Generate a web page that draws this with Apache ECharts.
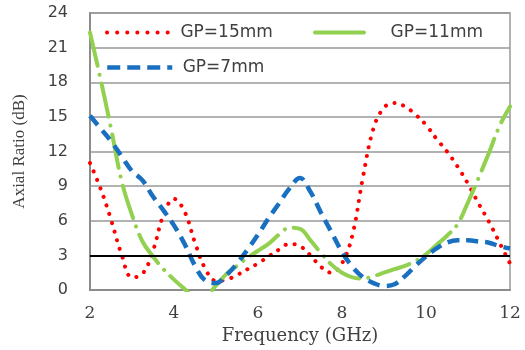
<!DOCTYPE html>
<html>
<head>
<meta charset="utf-8">
<script src="https://cdn.jsdelivr.net/npm/echarts@6/dist/echarts.min.js"></script>
<style>html,body{margin:0;padding:0;background:#fff;}#c{width:525px;height:350px;}</style>
</head>
<body>
<div id="c"></div>
<script>
// Frequency samples (GHz)
const freq = [2,2.25,2.5,2.75,3,3.25,3.5,3.75,4,4.25,4.5,4.75,5,5.25,5.5,5.75,6,6.25,6.5,6.75,7,7.25,7.5,7.75,8,8.25,8.5,8.75,9,9.25,9.5,9.75,10,10.25,10.5,10.75,11,11.25,11.5,11.75,12];
// Axial ratio (dB)
const gp15 = [11.0,8.8,6.1,3.1,1.1,1.4,3.4,6.5,7.9,6.8,4.1,1.8,0.8,0.9,1.3,1.8,2.3,2.9,3.5,4.0,3.8,3.0,2.0,1.5,2.3,4.8,9.8,14.0,15.8,16.2,15.9,15.2,14.3,13.1,12.0,10.7,9.2,7.5,5.9,4.1,2.3];
const gp11 = [22.3,18.3,14.0,9.5,6.5,4.2,2.9,1.8,0.9,0.1,-0.6,-0.5,0.4,1.4,2.1,2.8,3.4,4.0,4.8,5.4,5.3,4.3,3.2,2.2,1.5,1.1,1.0,1.2,1.5,1.8,2.1,2.5,3.1,3.9,4.7,5.7,7.6,9.7,11.9,14.2,15.9];
const gp7  = [15.1,14.0,12.9,11.6,10.3,9.5,8.1,6.9,5.6,4.0,2.1,0.8,0.6,1.3,2.3,3.5,4.8,6.2,7.5,8.8,9.7,8.5,6.7,5.0,3.3,2.0,1.1,0.6,0.35,0.5,1.2,2.1,2.9,3.6,4.1,4.3,4.3,4.2,4.1,3.8,3.6];
const names = ['GP=15mm','GP=11mm','GP=7mm'];
const refLevel = 3;

const pair = arr => freq.map((f,i)=>[f,arr[i]]);
const chart = echarts.init(document.getElementById('c'), null, {renderer:'canvas'});
const legendText = {fontFamily:'DejaVu Sans', fontSize:17, color:'#404040'};
const hideSym = {opacity:0};
chart.setOption({
  animation:false,
  grid:{left:90, right:15, top:13, bottom:60, show:true, borderColor:'#999', borderWidth:1.5},
  legend:[
    {data:[names[0]], left:105, top:24, padding:0, itemWidth:63, itemHeight:14, itemStyle:hideSym,
     lineStyle:{width:4, type:[0.1,10], cap:'round'}, textStyle:legendText, formatter:n=>' '+n},
    {data:[names[2]], left:105, top:59, padding:0, itemWidth:65, itemHeight:14, itemStyle:hideSym,
     lineStyle:{width:4.5, type:[13,7]}, textStyle:legendText, formatter:n=>' '+n},
    {data:[names[1]], left:313, top:24, padding:0, itemWidth:49, itemHeight:14, itemStyle:hideSym,
     lineStyle:{width:4, type:'solid', cap:'round'}, textStyle:legendText, formatter:n=>'    '+n}
  ],
  xAxis:{type:'value', min:2, max:12, interval:2,
    name:'Frequency (GHz)', nameLocation:'middle', nameGap:37,
    nameTextStyle:{fontFamily:'DejaVu Serif', fontSize:18, color:'#404040'},
    axisLine:{show:true, lineStyle:{color:'#8c8c8c', width:2}},
    axisTick:{show:false}, splitLine:{show:false},
    axisLabel:{margin:15, fontFamily:'DejaVu Serif', fontSize:17, color:'#404040'}},
  yAxis:{type:'value', min:0, max:24, interval:3,
    name:'Axial Ratio (dB)', nameLocation:'middle', nameGap:62,
    nameTextStyle:{fontFamily:'Liberation Serif', fontSize:17, color:'#404040'},
    axisLine:{show:true, lineStyle:{color:'#8c8c8c', width:2}},
    axisTick:{show:false},
    splitLine:{show:true, lineStyle:{color:'#999', width:1.5}},
    axisLabel:{margin:22, fontFamily:'DejaVu Sans', fontSize:16, color:'#404040'}},
  series:[
    {name:names[0], type:'line', data:pair(gp15), smooth:0.4, showSymbol:false, symbol:'none',
     lineStyle:{color:'#ff0000', width:4, type:[0.1,9], cap:'round'}, itemStyle:{color:'#ff0000'},
     markLine:{silent:true, symbol:['none','none'], label:{show:false}, data:[{yAxis:refLevel}],
       lineStyle:{color:'#000', width:2, type:'solid'}}},
    {name:names[1], type:'line', data:pair(gp11), smooth:0.4, showSymbol:false, symbol:'none',
     lineStyle:{color:'#92d050', width:4, type:[34,9,0.1,9], cap:'round'}, itemStyle:{color:'#92d050'}},
    {name:names[2], type:'line', data:pair(gp7), smooth:0.4, showSymbol:false, symbol:'none',
     lineStyle:{color:'#1a70c0', width:4.5, type:[12,7]}, itemStyle:{color:'#1a70c0'}}
  ]
});
</script>
</body>
</html>
